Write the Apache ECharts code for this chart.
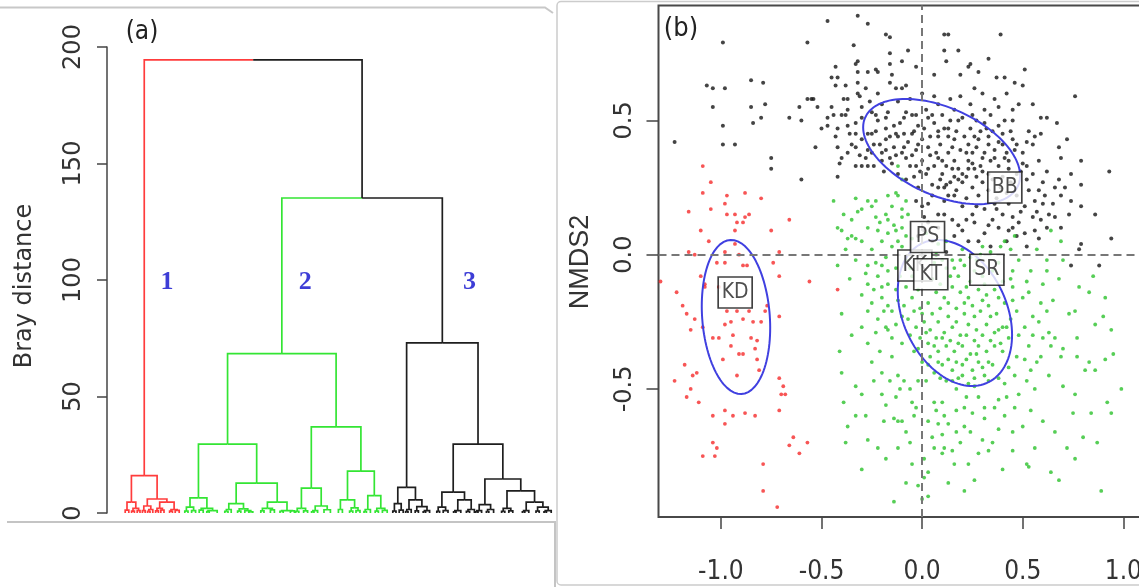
<!DOCTYPE html>
<html>
<head>
<meta charset="utf-8">
<script src="https://cdn.jsdelivr.net/npm/echarts@6/dist/echarts.min.js"></script>
<style>
html, body { margin: 0; padding: 0; background: #fff; }
#main { width: 1139px; height: 587px; }
</style>
</head>
<body>
<div id="main"></div>
<script>
// (a) dendrogram: a node is [height, left, right], a leaf is its position in leaf order
const redTree = [16,
  [4.7, [1.2, 3.3, 4.2], [2, [0.8, 4.9, 5.6], [1, 6.3, 7.0]]],
  [6,
    [3, [1, 7.6, 8.3], [1.5, [0.7, 8.9, 9.5], 10.2]],
    [4.7, [2, [0.9, 10.9, 11.6], [1.2, 12.2, 13.0]], [1.5, [0.8, 14.4, 15.1], [1.1, 15.8, 16.8]]]]];

const greenTree = [68.4,
  [29.6,
    [6.5,
      [2.5, [0.8, 18.2, 19.0], [1, 19.9, 20.9]],
      [2, [1.2, 21.8, 22.8], [1, [0.6, 23.7, 24.3], 26.3]]],
    [12.8,
      [4, [1.5, [0.7, 28.2, 29.0], 29.8], [1.8, [0.8, 31.4, 32.2], [1, 33.2, [0.5, 34.2, 35.2]]]],
      [4.7, [2, [0.9, 37.2, 38.0], [1.3, 39.6, 40.6]], [1, [0.7, 42.0, 42.8], [0.9, 44.6, 45.6]]]]],
  [37,
    [10.7,
      [2, [0.7, 45.9, 46.7], [0.9, 47.9, 48.9]],
      [3, [1, [0.5, 49.9, 50.5], 51.4], [1.4, 53.0, 54.6]]],
    [18,
      [5.6, [1.5, 56.6, 57.6], [2.2, [0.8, 59.4, 60.2], [1, 61.0, 62.0]]],
      [7.5, [1.5, [0.6, 63.0, 63.6], 64.6], [2, [0.8, 65.8, 66.6], [1.1, 67.6, 68.8]]]]]];

const blackTree = [73,
  [11,
    [4, [0.8, 70.2, 71.0], [1.2, 71.8, 72.8]],
    [5.6, [1.5, [0.6, 73.4, 74.0], 74.8], [2.7, [0.9, 75.8, 76.6], [1, [0.5, 77.8, 78.4], 79.4]]]],
  [29.6,
    [9,
      [2.5, [0.7, 81.2, 81.9], [1, 82.8, 84.0]],
      [5.6, [1, [0.5, 85.4, 86.0], 87.2], [1.5, [0.7, 88.6, 89.4], 90.6]]],
    [14.6,
      [3.6, [1, [0.5, 90.9, 91.5], 92.4], [1.5, [0.6, 93.6, 94.2], 95.4]],
      [9.5,
        [2, [0.7, 97.4, 98.2], [0.9, 99.2, 100.2]],
        [4.7, [1, [0.5, 102.6, 103.2], 104.2], [2.5, [0.8, 106.0, 106.8], [1, [0.5, 108.0, 108.6], 109.8]]]]]]];

// heights of the green-black join and of the root
const upperHeights = [135.2, 194.5];
const yTicksA = [0, 50, 100, 150, 200];
const clusterLabels = ['1', '2', '3'];
const clusterLabelX = [13.75, 48.3, 89.4];
const clusterLabelY = [99, 99, 99];

// (b) NMDS
const xTicksB = [-1, -0.5, 0, 0.5, 1];
const yTicksB = [-0.5, 0, 0.5];

const redPoints = [[-1.09,0.33],[-1.05,0.27],[-1.09,0.23],[-1.16,0.16],[-1.05,0.17],[-0.97,0.22],[-0.88,0.23],[-0.80,0.21],[-0.98,0.19],[-0.93,0.15],[-0.88,0.14],[-0.86,0.15],[-0.89,0.12],[-0.92,0.12],[-0.97,0.15],[-1.10,0.09],[-0.93,0.09],[-0.66,0.13],[-0.75,0.09],[-1.06,0.05],[-1.16,0.01],[-1.13,0.00],[-0.93,0.04],[-0.98,0.01],[-0.91,0.00],[-0.71,0.01],
  [-1.30,-0.10],[-1.22,-0.14],[-1.10,-0.08],[-1.08,-0.12],[-1.02,-0.03],[-0.98,-0.03],[-0.89,-0.04],[-0.87,-0.04],[-0.74,-0.03],[-0.71,-0.08],[-0.56,-0.10],[-0.42,-0.13],[-1.19,-0.19],[-1.17,-0.22],[-1.15,-0.28],[-1.13,-0.24],[-1.09,-0.27],[-0.98,-0.26],[-0.95,-0.25],[-0.89,-0.24],[-0.84,-0.25],[-0.80,-0.25],[-0.77,-0.19],[-0.71,-0.23],[-0.86,-0.21],[-1.04,-0.31],[-1.01,-0.31],[-0.94,-0.30],[-0.85,-0.31],[-0.82,-0.32],[-0.95,-0.34],[-0.91,-0.37],[-0.89,-0.37],[-0.99,-0.39],[-0.82,-0.39],[-0.81,-0.43],[-1.18,-0.41],[-1.14,-0.45],[-1.12,-0.44],[-0.92,-0.45],[-1.23,-0.47],[-0.71,-0.46],[-0.69,-0.49],[-1.15,-0.50],[-1.17,-0.53],[-1.11,-0.55],[-0.70,-0.52],[-0.68,-0.52],[-0.98,-0.58],[-1.04,-0.60],[-0.94,-0.60],[-0.88,-0.59],[-0.83,-0.60],[-0.98,-0.63],[-0.71,-0.58],[-1.04,-0.70],[-1.02,-0.72],[-1.09,-0.75],[-1.03,-0.75],[-0.64,-0.68],[-0.57,-0.70],[-0.66,-0.71],[-0.61,-0.74],[-0.79,-0.78],[-0.79,-0.88],[-0.72,-0.94],[-1.01,-0.12],[-1.08,-0.11],[-0.78,-0.21],[-0.92,-0.21],[-0.97,-0.21],[-0.83,-0.35]];

const greenPoints = [[-0.44,0.20],[-0.33,0.21],[-0.27,0.20],[-0.23,0.20],[-0.17,0.22],[-0.13,0.23],[-0.30,0.17],[-0.25,0.18],[-0.18,0.15],[-0.15,0.18],[-0.42,0.10],[-0.40,0.09],[-0.35,0.07],[-0.33,0.06],[-0.27,0.10],[-0.22,0.09],[-0.17,0.08],[-0.13,0.09],[-0.23,0.14],[-0.17,0.13],[-0.10,0.14],
  [-0.12,0.33],[-0.10,0.28],[-0.12,0.22],[-0.08,0.20],[-0.10,0.17],[-0.07,0.15],[-0.10,0.10],[-0.12,0.05],[0.64,0.09],[0.41,0.05],[0.46,0.07],[0.69,0.05],
  [-0.27,-0.04],[-0.23,-0.03],[-0.20,-0.04],[-0.17,-0.06],[-0.13,-0.05],[-0.27,-0.11],[-0.20,-0.12],[-0.17,-0.11],[-0.27,-0.21],[-0.17,-0.19],[-0.15,-0.21],[-0.23,-0.29],[-0.18,-0.27],[-0.17,-0.28],[-0.13,-0.26],[-0.10,-0.23],[-0.15,-0.31],
  [-0.33,-0.49],[-0.30,-0.52],[-0.24,-0.47],[-0.20,-0.52],[-0.16,-0.47],[-0.09,-0.47],[-0.13,-0.53],[-0.33,-0.60],[-0.28,-0.60],[-0.37,-0.64],[-0.19,-0.62],[-0.14,-0.61],[-0.10,-0.62],[-0.18,-0.56],[-0.27,-0.69],[-0.18,-0.76],
  [0.83,-0.14],[0.91,-0.16],[0.94,-0.28],[0.86,-0.26],[0.77,-0.31],[0.73,-0.22],[0.76,-0.21],[0.63,-0.29],[0.66,-0.31],[0.64,-0.34],[0.59,-0.38],[0.69,-0.38],[0.77,-0.38],[0.83,-0.40],[0.91,-0.39],[0.81,-0.43],[0.86,-0.43],[0.76,-0.52],[0.75,-0.59],[0.84,-0.59],[0.94,-0.59],[0.99,-0.50],[0.76,-0.76],[0.89,-0.88],[0.64,-0.81],[0.68,-0.84],[0.53,-0.79],[0.56,-0.72],[0.50,-0.64],[0.60,-0.62],[0.54,-0.58],[0.46,-0.57],[0.41,-0.60],[0.38,-0.65],[0.35,-0.70],[0.33,-0.73],[0.26,-0.84],[0.23,-0.78],[0.16,-0.78],[0.11,-0.72],[0.10,-0.67],[0.08,-0.63],[0.17,-0.66],[0.21,-0.64],[0.30,-0.69],[0.31,-0.61],[0.36,-0.57],[0.25,-0.59],[0.21,-0.57],[0.17,-0.58],[0.11,-0.60],[0.03,-0.62],[-0.03,-0.57],[-0.12,-0.62],[-0.06,-0.70],[0.01,-0.76],[0.03,-0.81],[0.13,-0.85],[0.06,-0.72],[0.10,-0.74],[0.15,-0.73],[0.45,-0.73],[0.52,-0.78],[0.46,-0.45],[0.52,-0.47],[0.54,-0.43],[0.51,-0.39],[0.59,-0.18],[0.62,-0.21],[0.55,-0.23],[0.53,-0.14],[0.54,-0.06],[0.62,-0.06],[0.45,-0.06],[0.45,-0.12],[0.45,-0.17],[-0.11,-0.50],[-0.12,-0.45],[-0.05,-0.55],[-0.02,-0.47],[0.02,-0.47],[0.06,-0.55],[0.10,-0.55],[0.17,-0.50],[0.22,-0.53],[0.26,-0.49],[0.28,-0.53],[0.31,-0.57],[0.38,-0.54],[0.41,-0.48],[0.33,-0.47],
  [-0.08,-0.02],[-0.05,-0.08],[-0.02,-0.13],[0.02,-0.09],[0.06,-0.03],[0.09,-0.11],[0.12,-0.05],[0.15,-0.02],[0.18,-0.08],[0.21,-0.04],[0.24,-0.10],[0.27,-0.02],[0.30,-0.08],[0.34,0.01],[0.38,-0.03],[0.40,-0.10],[0.36,-0.13],[0.32,-0.15],[0.28,-0.13],[0.23,-0.16],[0.19,-0.14],[0.15,-0.12],[0.11,-0.16],[0.07,-0.14],[0.03,-0.18],[-0.01,-0.20],[-0.05,-0.16],[-0.08,-0.12],[-0.07,-0.24],[-0.03,-0.27],[0.01,-0.25],[0.05,-0.22],[0.09,-0.20],[0.13,-0.23],[0.17,-0.20],[0.21,-0.22],[0.25,-0.19],[0.29,-0.21],[0.33,-0.19],[0.37,-0.22],[0.41,-0.18],[0.44,-0.24],[0.40,-0.27],[0.36,-0.29],[0.32,-0.26],[0.27,-0.28],[0.23,-0.26],[0.19,-0.30],[0.15,-0.27],[0.11,-0.29],[0.07,-0.31],[0.03,-0.33],[-0.01,-0.31],[-0.04,-0.36],[0.00,-0.40],[0.04,-0.38],[0.08,-0.36],[0.12,-0.34],[0.16,-0.36],[0.20,-0.34],[0.24,-0.37],[0.28,-0.34],[0.32,-0.36],[0.36,-0.34],[0.40,-0.36],[0.43,-0.31],[0.35,-0.41],[0.30,-0.42],[0.25,-0.43],[0.20,-0.41],[0.15,-0.43],[0.10,-0.41],[0.06,-0.44],[0.12,-0.47],[0.18,-0.46],[0.23,-0.48],[0.28,-0.40],
  [-0.25,0.02],[-0.20,0.05],[-0.15,0.03],[-0.18,-0.01],[-0.22,-0.08],[-0.10,0.03],[-0.05,0.06],[0.02,0.08],[0.08,0.04],[-0.30,-0.15],[-0.25,-0.18],[-0.20,-0.16],[-0.22,-0.24],[-0.30,-0.27],[-0.27,-0.33],[-0.21,-0.36],[-0.15,-0.38],[-0.10,-0.33],[-0.12,-0.17],[-0.35,0.13],[-0.30,0.05],[-0.38,0.02],[-0.42,-0.04],[-0.36,-0.09],
  [0.48,-0.02],[0.52,-0.10],[0.50,-0.16],[0.48,-0.30],[0.47,-0.38],[0.55,-0.30],[0.58,-0.25],[0.60,-0.11],[0.57,0.02],[0.44,0.02],[0.39,0.03],[0.30,0.03],[0.20,0.02],[0.12,0.05],[0.65,-0.17],[0.68,-0.09],[0.70,-0.02],
  [0.00,-0.91],[-0.02,-0.86],[0.01,-0.83],[0.03,-0.90],[-0.05,-0.78],[0.05,-0.68],[-0.08,-0.66],[-0.04,-0.60],[0.07,-0.58],[0.13,-0.63],[0.19,-0.70],[0.24,-0.66],[0.28,-0.74],[0.21,-0.88],[0.40,-0.80],[0.45,-0.66],[0.48,-0.52],[0.42,-0.53],[0.56,-0.50],[0.63,-0.45],[0.70,-0.49],[0.66,-0.66],[0.72,-0.72],[0.80,-0.68],[0.87,-0.70],[0.92,-0.55],[0.95,-0.37],[0.90,-0.23],[0.85,-0.08],[0.78,-0.12],[0.70,-0.35],
  [-0.40,-0.44],[-0.39,-0.55],[-0.38,-0.70],[-0.30,-0.80],[-0.22,-0.72],[-0.12,-0.72],[-0.08,-0.85],[-0.14,-0.92],[-0.25,-0.40],[-0.20,-0.44],[-0.06,-0.50],[-0.41,-0.36],[-0.40,-0.22],[-0.35,-0.30],
  [-0.06,-0.05],[0.00,-0.05],[0.05,-0.09],[0.10,-0.02],[0.14,-0.08],[0.19,-0.02],[0.22,-0.12],[0.26,-0.06],[0.31,-0.11],[0.35,-0.06],[0.38,-0.16],[0.34,-0.23],[0.30,-0.17],[0.26,-0.23],[0.21,-0.18],[0.17,-0.25],[0.13,-0.18],[0.08,-0.25],[0.04,-0.28],[0.00,-0.22],[-0.04,-0.21],[-0.06,-0.30],[-0.02,-0.35],[0.02,-0.29],[0.06,-0.34],[0.10,-0.31],[0.14,-0.32],[0.18,-0.33],[0.22,-0.30],[0.26,-0.32],[0.30,-0.30],[0.34,-0.32],[0.38,-0.28],[0.42,-0.27],[0.39,-0.33],[0.33,-0.40],[0.27,-0.37],[0.22,-0.39],[0.17,-0.40],[0.13,-0.39],[0.08,-0.40],[0.03,-0.41],[0.09,-0.46],[0.15,-0.47],[0.20,-0.45],[0.26,-0.46],[0.31,-0.45],[0.02,-0.02],[0.07,0.00],[0.16,-0.05],[0.24,-0.01],[0.29,0.00],[-0.11,-0.08],[-0.09,-0.19],[-0.13,-0.13],[-0.19,-0.21],[-0.24,-0.13],[-0.28,-0.07],[-0.33,-0.02],[-0.37,0.06],[-0.32,0.16],[-0.39,0.15],[-0.21,0.12],[-0.14,0.11],[-0.08,0.07],[0.44,-0.09],[0.47,-0.21],[0.51,-0.27],[0.53,-0.34],[0.43,-0.42],[0.38,-0.46],[0.57,-0.40],[0.60,-0.31],[0.62,-0.02]];

const blackPoints = [[-0.99,0.79],[-0.57,0.79],[-0.47,0.87],[-0.32,0.89],[-0.27,0.86],[-0.18,0.82],[-0.16,0.81],[-0.34,0.78],[-0.16,0.75],[-0.33,0.71],[-0.32,0.72],[-0.16,0.71],[-0.23,0.69],[-0.22,0.68],[-0.43,0.70],[-0.27,0.68],[-0.32,0.68],[-0.15,0.67],[-0.45,0.66],[-0.42,0.66],[-0.10,0.72],[-1.07,0.63],[-1.04,0.62],[-0.98,0.62],[-0.85,0.65],[-0.79,0.64],[-0.43,0.63],[-0.38,0.63],[-0.32,0.64],[-0.28,0.62],[-0.16,0.64],[-0.13,0.62],[-0.32,0.60],[-0.31,0.59],[-0.37,0.58],[-0.22,0.60],[-0.57,0.58],[-0.55,0.58],[-0.54,0.58],[-0.61,0.55],[-0.52,0.55],[-0.39,0.58],[-1.04,0.55],[-0.85,0.55],[-0.78,0.56],[-0.80,0.51],[-0.84,0.49],[-0.66,0.51],[-0.60,0.50],[-0.99,0.48],[-1.23,0.42],[-0.99,0.41],[-0.93,0.41],[-0.75,0.36],[-0.75,0.32],[-0.60,0.28],[-0.53,0.40],[-0.47,0.51],[-0.44,0.52],[-0.40,0.52],[-0.37,0.54],[-0.47,0.48],[-0.42,0.47],[-0.37,0.48],[-0.33,0.49],[-0.43,0.44],[-0.36,0.45],[-0.33,0.45],[-0.27,0.45],[-0.23,0.46],[-0.42,0.40],[-0.37,0.38],[-0.40,0.36],[-0.33,0.40],[-0.20,0.38],[-0.41,0.34],[-0.33,0.33],[-0.30,0.33],[-0.27,0.33],[-0.42,0.29],[-0.30,0.51],[-0.25,0.53],[-0.23,0.52],[-0.17,0.53],[-0.30,0.43],[-0.18,0.43],[-0.13,0.45],[-0.18,0.51],[-0.31,0.37],[-0.25,0.38],[-0.16,0.36],[-0.10,0.38],[-0.09,0.51],[-0.09,0.45],[-0.20,0.35],
  [0.11,0.82],[0.13,0.82],[0.39,0.82],[0.11,0.76],[0.12,0.72],[0.24,0.71],[0.23,0.70],[0.19,0.67],[0.37,0.66],[0.41,0.66],[0.51,0.69],[0.46,0.64],[0.26,0.62],[-0.10,0.62],[-0.08,0.63],[0.50,0.63],[0.76,0.59],[0.06,0.59],[0.14,0.58],[0.36,0.58],[0.38,0.55],[0.48,0.56],[0.55,0.56],[0.31,0.54],[0.45,0.54],[0.59,0.51],[0.62,0.51],[0.67,0.49],[-0.08,0.53],[-0.03,0.52],[0.02,0.54],[0.05,0.52],[0.16,0.54],[0.20,0.51],[0.25,0.52],[0.31,0.49],[0.38,0.48],[0.45,0.50],[0.53,0.46],[0.56,0.44],[0.59,0.45],[0.72,0.43],[-0.12,0.44],[-0.05,0.45],[-0.02,0.48],[0.00,0.43],[0.08,0.46],[0.13,0.44],[0.16,0.43],[0.23,0.41],[0.28,0.43],[0.33,0.44],[0.40,0.41],[0.45,0.43],[0.68,0.40],[0.69,0.36],[0.79,0.35],[-0.03,0.39],[0.03,0.40],[0.08,0.36],[0.13,0.38],[0.16,0.35],[0.25,0.38],[0.30,0.36],[0.36,0.39],[0.41,0.36],[0.55,0.41],[0.52,0.33],[0.58,0.35],[0.60,0.27],[0.66,0.25],[0.69,0.22],[0.74,0.30],[0.79,0.26],[0.74,0.20],[0.93,0.31],[0.86,0.15],[0.94,0.06],[-0.03,0.33],[0.03,0.32],[0.10,0.30],[0.15,0.32],[0.20,0.30],[0.26,0.32],[-0.08,0.28],[-0.02,0.25],[0.05,0.26],[0.11,0.25],[0.18,0.28],[0.25,0.25],[0.30,0.27],[-0.03,0.20],[0.03,0.19],[0.11,0.20],[0.16,0.22],[0.20,0.18],[0.25,0.15],[0.31,0.17],[0.36,0.19],[0.40,0.15],[0.45,0.14],[0.51,0.18],[0.55,0.14],[0.60,0.19],[0.63,0.15],[0.26,0.12],[0.35,0.13],[0.38,0.10],[0.43,0.09],[0.51,0.08],[0.56,0.09],[0.31,0.08],[0.28,0.05],[0.20,0.09],[0.78,0.02],[0.59,0.13],[0.73,0.15],[0.79,0.18],[0.69,0.10],[0.00,0.18],[0.01,0.14],[0.01,0.09],[0.11,0.15],[0.15,0.13],[0.08,0.10],[0.74,-0.04],[0.88,-0.04],[0.79,0.04],
  [-0.25,0.45],[-0.21,0.41],[-0.18,0.47],[-0.14,0.40],[-0.11,0.49],[-0.07,0.42],[-0.05,0.37],[-0.02,0.41],[0.01,0.47],[0.04,0.44],[0.06,0.49],[0.09,0.41],[0.11,0.47],[0.14,0.50],[0.17,0.46],[0.19,0.39],[0.21,0.44],[0.24,0.47],[0.27,0.40],[0.29,0.46],[0.33,0.41],[0.35,0.46],[0.38,0.42],[0.42,0.38],[0.44,0.46],[0.47,0.41],[0.50,0.38],[0.52,0.42],
  [-0.28,0.36],[-0.24,0.33],[-0.19,0.31],[-0.15,0.34],[-0.12,0.30],[-0.06,0.33],[-0.04,0.29],[0.00,0.35],[0.02,0.30],[0.06,0.33],[0.09,0.28],[0.12,0.33],[0.14,0.27],[0.18,0.32],[0.22,0.29],[0.23,0.35],[0.27,0.29],[0.29,0.33],[0.33,0.30],[0.34,0.35],[0.38,0.33],[0.40,0.29],[0.43,0.32],[0.47,0.30],[0.50,0.34],[0.55,0.30],[0.58,0.24],[0.62,0.31],
  [0.05,0.22],[0.08,0.25],[0.13,0.22],[0.17,0.24],[0.22,0.21],[0.28,0.22],[0.33,0.24],[0.37,0.21],[0.42,0.23],[0.47,0.22],[0.53,0.24],[0.56,0.20],[0.65,0.19],[0.68,0.28],[0.62,0.10],[0.48,0.12],[0.42,0.05],[0.34,0.03],[0.23,0.05],[0.16,0.07],[0.05,0.05],[-0.02,0.07],[0.12,0.01],[0.47,0.07],[0.52,0.03],
  [-0.30,0.55],[-0.26,0.57],[-0.20,0.56],[-0.12,0.57],[-0.06,0.58],[0.00,0.60],[0.08,0.56],[0.19,0.59],[0.24,0.56],[0.30,0.60],[0.42,0.60],[0.28,0.68],[0.33,0.73],[0.06,0.67],[-0.03,0.70],[-0.07,0.76],[0.18,0.76],[-0.35,0.41],[-0.38,0.52],[-0.45,0.55],[-0.50,0.47],[-0.27,0.39],
  [-0.22,0.50],[-0.16,0.44],[-0.09,0.40],[-0.04,0.46],[0.03,0.51],[0.07,0.38],[0.10,0.52],[0.15,0.40],[0.18,0.50],[0.22,0.38],[0.26,0.44],[0.31,0.38],[0.32,0.47],[0.36,0.36],[0.40,0.45],[0.43,0.35],[0.46,0.39],[0.49,0.31],[0.52,0.28],[0.44,0.27],[0.39,0.25],[0.35,0.28],[0.30,0.31],[0.25,0.34],[0.20,0.27],[0.16,0.29],[0.10,0.35],[0.04,0.37],[-0.01,0.31],[-0.08,0.36],[-0.13,0.37],[-0.18,0.39],[-0.24,0.41],[-0.14,0.48],[-0.05,0.52],[0.08,0.44],[0.13,0.47],[0.27,0.50],[0.34,0.52],[0.41,0.50],[0.23,0.32],[0.12,0.26],[0.37,0.17],[0.43,0.19],[0.49,0.16],[0.27,0.18],[0.22,0.13],[0.33,0.11],[0.18,0.11],[0.08,0.15],[0.03,0.12],[0.57,0.16],[0.61,0.22],[0.66,0.14],[0.71,0.25],[0.58,0.06],[0.45,0.10]];

// ordination ellipses: [centre x, centre y, sd x, sd y, correlation]
const ellipses = [[-0.925, -0.232, 0.170, 0.287, -0.14], [0.097, 0.384, 0.390, 0.196, -0.46], [0.163, -0.217, 0.284, 0.272, -0.30]];
const boxLabels = ['KD', 'BB', 'KK', 'PS', 'KT', 'SR'];
const boxX = [-0.929, 0.411, -0.036, 0.027, 0.043, 0.322];
const boxY = [-0.141, 0.250, -0.040, 0.066, -0.073, -0.056];

const RED = '#ff3c3c', GREEN = '#33e533', DARK = '#1e1e1e';
const NARROW = '"Liberation Sans Narrow", "DejaVu Sans Condensed", "Liberation Sans", sans-serif';

// lay the tree out: a node sits midway between its children
function layout (node, color, segs) {
  if (typeof node === 'number') return { x: node, h: 0, color: color };
  const l = layout(node[1], color, segs);
  const r = layout(node[2], color, segs);
  return join(node[0], l, r, color, segs);
}
function join (h, l, r, color, segs) {
  const x = (l.x + r.x) / 2;
  segs.push({ coords: [[l.x, l.h], [l.x, h], [x, h]], lineStyle: { color: l.color } });
  segs.push({ coords: [[x, h], [r.x, h], [r.x, r.h]], lineStyle: { color: r.color } });
  return { x: x, h: h, color: color };
}
const segs = [];
const red = layout(redTree, RED, segs);
const green = layout(greenTree, GREEN, segs);
const black = layout(blackTree, DARK, segs);
const gb = join(upperHeights[0], green, black, DARK, segs);
join(upperHeights[1], red, gb, DARK, segs);

function ellipsePath (e) {
  const pts = [];
  const q = Math.sqrt(1 - e[4] * e[4]);
  for (let i = 0; i <= 120; i++) {
    const t = i / 120 * 2 * Math.PI;
    pts.push([e[0] + e[2] * Math.cos(t), e[1] + e[3] * (e[4] * Math.cos(t) + q * Math.sin(t))]);
  }
  return pts;
}

const chart = echarts.init(document.getElementById('main'));

const series = [
  {
    type: 'lines', coordinateSystem: 'cartesian2d', xAxisIndex: 0, yAxisIndex: 0,
    polyline: true, silent: true, data: segs,
    lineStyle: { width: 1.7, opacity: 1 }
  },
  {
    type: 'scatter', xAxisIndex: 0, yAxisIndex: 0, symbolSize: 0, silent: true,
    data: clusterLabels.map((c, i) => ({ name: c, value: [clusterLabelX[i], clusterLabelY[i]] })),
    label: {
      show: true, position: 'inside', formatter: '{b}',
      color: '#0d0dcc', fontSize: 26, fontWeight: 'bold', fontFamily: '"Liberation Serif", serif'
    }
  },
  { type: 'scatter', xAxisIndex: 1, yAxisIndex: 1, data: blackPoints, symbolSize: 4, silent: true, itemStyle: { color: '#151515' } },
  { type: 'scatter', xAxisIndex: 1, yAxisIndex: 1, data: greenPoints, symbolSize: 3.8, silent: true, itemStyle: { color: '#2cc22c' } },
  {
    type: 'scatter', xAxisIndex: 1, yAxisIndex: 1, data: redPoints, symbolSize: 3.8, silent: true, itemStyle: { color: '#f52a2a' },
    markLine: {
      silent: true, symbol: ['none', 'none'], label: { show: false },
      lineStyle: { type: [8, 5], color: '#777', width: 2 },
      data: [{ xAxis: 0 }, { yAxis: 0 }]
    }
  }
];
ellipses.forEach(e => {
  series.push({
    type: 'line', xAxisIndex: 1, yAxisIndex: 1, data: ellipsePath(e), showSymbol: false,
    silent: true, z: 3, lineStyle: { color: '#4040e0', width: 2 }
  });
});
boxLabels.forEach((name, i) => {
  series.push({
    type: 'scatter', xAxisIndex: 1, yAxisIndex: 1, z: 5 + i, silent: true,
    symbol: 'rect', symbolSize: [34, 31],
    itemStyle: { color: '#fff', borderColor: '#111', borderWidth: 1.6 },
    data: [{ name: name, value: [boxX[i], boxY[i]] }],
    label: { show: true, position: 'inside', formatter: '{b}', color: '#222', textBorderWidth: 0, fontSize: 21, fontFamily: NARROW }
  });
});

const option = {
  animation: false,
  backgroundColor: '#fff',
  grid: [
    { left: 107, top: 47, width: 453, height: 466, outerBoundsMode: 'none' },
    { left: 658.5, top: 5.5, width: 490, height: 511.5, show: true, borderColor: '#484848', borderWidth: 2, outerBoundsMode: 'none' }
  ],
  xAxis: [
    { gridIndex: 0, type: 'value', min: -1.25, max: 112, show: false },
    {
      gridIndex: 1, type: 'value', min: -1.31, max: 1.125, position: 'bottom',
      axisLine: { show: false, onZero: false }, splitLine: { show: false },
      axisTick: { show: true, customValues: xTicksB, length: 12, lineStyle: { color: '#444', width: 1.5 } },
      axisLabel: { customValues: xTicksB, formatter: v => v.toFixed(1), margin: 42, color: '#333', fontSize: 26, fontFamily: NARROW }
    }
  ],
  yAxis: [
    {
      gridIndex: 0, type: 'value', min: 0, max: 200, interval: 50,
      axisLine: { show: true, onZero: false, lineStyle: { color: '#444', width: 1.5 } },
      axisTick: { show: true, customValues: yTicksA, length: 10, lineStyle: { color: '#444', width: 1.5 } },
      splitLine: { show: false },
      axisLabel: { customValues: yTicksA, rotate: 90, align: 'center', verticalAlign: 'bottom', margin: 21, color: '#333', fontSize: 24, fontFamily: '"DejaVu Sans", sans-serif' }
    },
    {
      gridIndex: 1, type: 'value', min: -0.977, max: 0.928, position: 'left',
      axisLine: { show: false, onZero: false }, splitLine: { show: false },
      axisTick: { show: true, customValues: yTicksB, length: 12, lineStyle: { color: '#444', width: 1.5 } },
      axisLabel: { customValues: yTicksB, formatter: v => v.toFixed(1), rotate: 90, align: 'center', verticalAlign: 'bottom', margin: 22, color: '#333', fontSize: 24, fontFamily: '"DejaVu Sans", sans-serif' }
    }
  ],
  graphic: [
    { type: 'polyline', silent: true, shape: { points: [[0, 7.5], [545, 7.5], [553, 13]] }, style: { stroke: '#c8c8c8', lineWidth: 2, fill: null } },
    { type: 'polyline', silent: true, shape: { points: [[7, 522], [555, 522], [555, 587]] }, style: { stroke: '#c4c4c4', lineWidth: 2, fill: null } },
    { type: 'rect', silent: true, shape: { x: 557, y: 1.5, width: 600, height: 583.5, r: 4 }, style: { stroke: '#cccccc', lineWidth: 1.5, fill: null } },
    { type: 'text', silent: true, x: 25, y: 286, rotation: Math.PI / 2, style: { text: 'Bray distance', font: '24px "DejaVu Sans", sans-serif', fill: '#333', align: 'center', verticalAlign: 'middle' } },
    { type: 'text', silent: true, x: 581, y: 262, rotation: Math.PI / 2, style: { text: 'NMDS2', font: '27px "Liberation Sans", sans-serif', fill: '#333', align: 'center', verticalAlign: 'middle' } },
    { type: 'text', silent: true, x: 142, y: 32, style: { text: '(a)', font: '26px ' + NARROW, fill: '#222', align: 'center', verticalAlign: 'middle' } },
    { type: 'text', silent: true, x: 681, y: 29, style: { text: '(b)', font: '27px ' + NARROW, fill: '#222', align: 'center', verticalAlign: 'middle' } }
  ],
  series: series
};
chart.setOption(option);
</script>
</body>
</html>
